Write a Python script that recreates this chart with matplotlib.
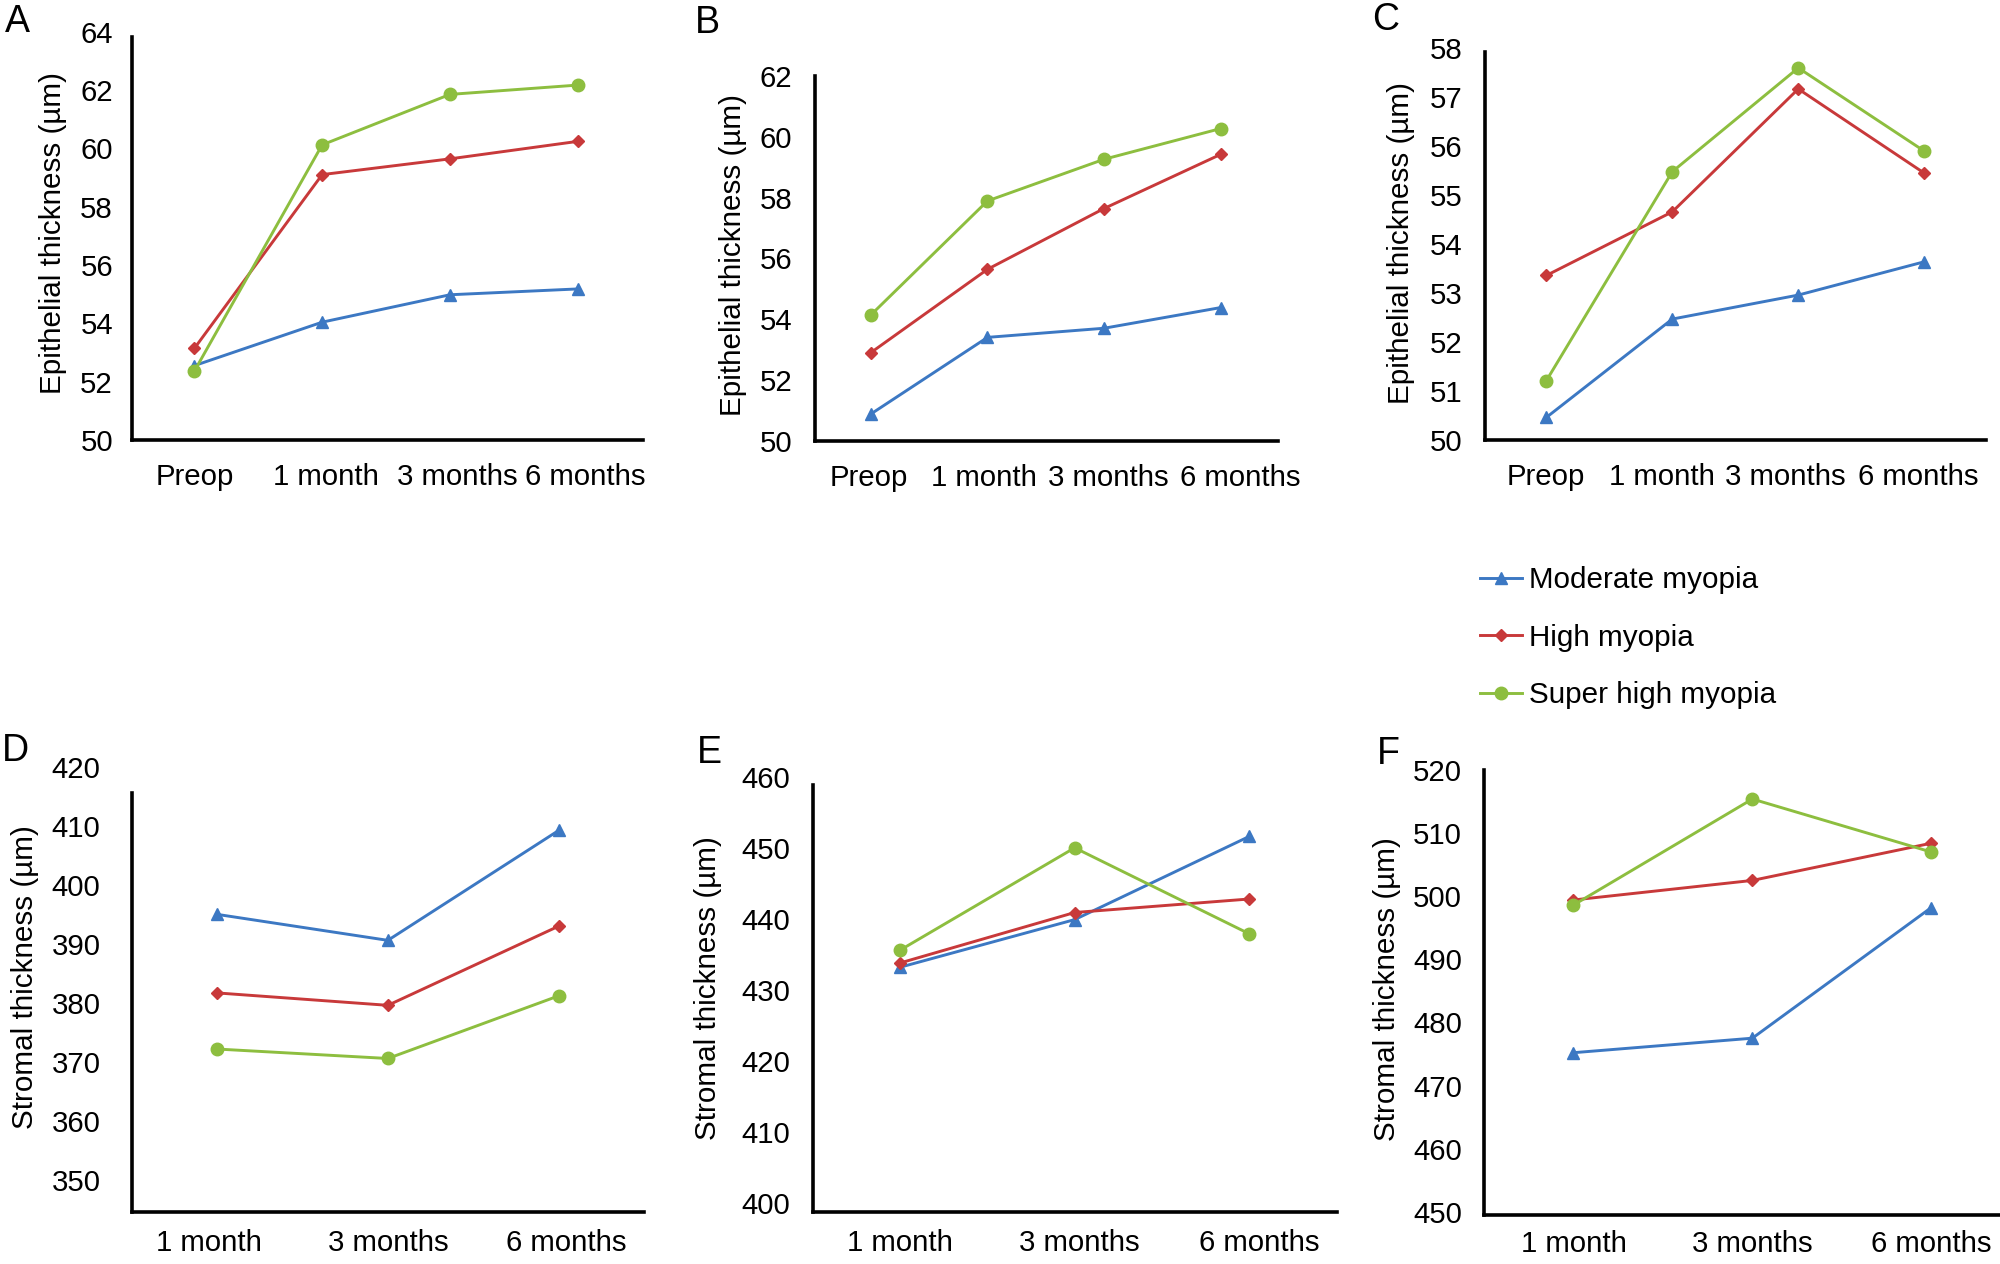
import matplotlib
matplotlib.use("Agg")
import matplotlib.pyplot as plt
from matplotlib.transforms import ScaledTranslation

plt.rcParams['font.family'] = ['Liberation Sans', 'DejaVu Sans']

# ---------------- data ----------------
epi_times = ["Preop", "1 month", "3 months", "6 months"]
str_times = ["1 month", "3 months", "6 months"]
groups = ["Moderate myopia", "High myopia", "Super high myopia"]

# A
a_moderate = [52.55, 54.04, 54.98, 55.18]
a_high = [53.14, 59.10, 59.64, 60.24]
a_super = [52.36, 60.12, 61.85, 62.17]
# B
b_moderate = [50.88, 53.40, 53.70, 54.38]
b_high = [52.90, 55.64, 57.64, 59.42]
b_super = [54.14, 57.89, 59.26, 60.27]
# C
c_moderate = [50.46, 52.47, 52.96, 53.64]
c_high = [53.36, 54.66, 57.17, 55.45]
c_super = [51.21, 55.48, 57.60, 55.90]
# D
d_moderate = [395.0, 390.6, 409.2]
d_high = [381.7, 379.6, 393.0]
d_super = [372.2, 370.6, 381.2]
# E
e_moderate = [433.2, 439.9, 451.6]
e_high = [433.8, 440.9, 442.8]
e_super = [435.6, 450.0, 437.9]
# F
f_moderate = [475.2, 477.5, 498.2]
f_high = [499.4, 502.5, 508.4]
f_super = [498.6, 515.4, 507.0]

epi_ticks_a = [50, 52, 54, 56, 58, 60, 62, 64]
epi_ticks_b = [50, 52, 54, 56, 58, 60, 62]
epi_ticks_c = [50, 51, 52, 53, 54, 55, 56, 57, 58]
str_ticks_d = [350, 360, 370, 380, 390, 400, 410, 420]
str_ticks_e = [400, 410, 420, 430, 440, 450, 460]
str_ticks_f = [450, 460, 470, 480, 490, 500, 510, 520]

# ---------------- style ----------------
W, H = 2000, 1264
colors = ["#3C78C3", "#C8393A", "#8DBE3F"]
markers = ["^", "D", "o"]
msizes = [9, 6.5, 9]
FS = 21.2
FS_LAB = 21.3

fig = plt.figure(figsize=(W / 100, H / 100), dpi=100)


def make_axes(x0, x1, ytop, ybot):
    return fig.add_axes([x0 / W, 1 - ybot / H, (x1 - x0) / W, (ybot - ytop) / H])


def panel(box, cats, series, xlim, ylim, spine_y, ticks, ylabel, ypad, xpad,
          ylab_xy, letter, letter_xy, label_shift):
    ax = make_axes(*box)
    x = list(range(len(cats)))
    lines = []
    for vals, c, m, ms in zip(series, colors, markers, msizes):
        ln, = ax.plot(x, vals, color=c, lw=2.1, marker=m, ms=ms,
                      markerfacecolor=c, markeredgecolor=c, clip_on=False)
        lines.append(ln)
    ax.set_xlim(*xlim)
    ax.set_ylim(*ylim)
    ax.set_xticks(x)
    ax.set_xticklabels(cats)
    ax.set_yticks(ticks)
    ax.set_yticklabels([str(t) for t in ticks])
    for s in ["top", "right"]:
        ax.spines[s].set_visible(False)
    for s in ["left", "bottom"]:
        ax.spines[s].set_linewidth(2.6)
        ax.spines[s].set_color("black")
    ax.spines["left"].set_bounds(*spine_y)
    ax.tick_params(axis="both", length=0, labelsize=FS, colors="black")
    ax.tick_params(axis="y", pad=ypad)
    ax.tick_params(axis="x", pad=xpad)
    for lab, dx in zip(ax.get_xticklabels(), label_shift):
        lab.set_transform(lab.get_transform() +
                          ScaledTranslation(dx / 100, 0, fig.dpi_scale_trans))
    ax.set_ylabel(ylabel, fontsize=FS_LAB)
    ax.yaxis.set_label_coords(ylab_xy[0] / W, 1 - ylab_xy[1] / H,
                              transform=fig.transFigure)
    ax.yaxis.label.set_va("center")
    fig.text(letter_xy[0] / W, 1 - letter_xy[1] / H, letter, fontsize=27,
             ha="center", va="center")
    return ax, lines


epi_label = "Epithelial thickness (\u00b5m)"
str_label = "Stromal thickness (\u00b5m)"

axA, handles = panel((131.7, 643, 31.7, 440), epi_times,
                     [a_moderate, a_high, a_super], (-0.49, 3.51), (50, 64),
                     (50, 63.83), epi_ticks_a, epi_label, 13.5, 16.5,
                     (53, 233), "A", (17, 22), [0, 4, 7, 7])
panel((815, 1277.7, 76, 440.7), epi_times, [b_moderate, b_high, b_super],
      (-0.48, 3.49), (50, 62), (50, 62), epi_ticks_b, epi_label, 16.5, 16.5,
      (733, 255), "B", (707, 23), [-2, -4, 4, 20])
panel((1485.2, 1986, 48.3, 440), epi_times, [c_moderate, c_high, c_super],
      (-0.485, 3.49), (50, 58), (50, 57.93), epi_ticks_c, epi_label, 16.3, 16.5,
      (1401, 243), "C", (1386, 20), [0, -10, -13, -6])
panel((131.7, 644, 766.7, 1211.7), str_times, [d_moderate, d_high, d_super],
      (-0.5, 2.5), (344.66, 420), (344.66, 415.5), str_ticks_d, str_label,
      22.5, 12.5, (25, 977.5), "D", (15, 751), [-8, 0, 8])
panel((812.7, 1336.6, 776.7, 1211.7), str_times, [e_moderate, e_high, e_super],
      (-0.5, 2.5), (398.82, 460), (398.82, 458.83), str_ticks_e, str_label,
      16.5, 12.5, (708, 988), "E", (709, 753), [0, 5, 10])
panel((1484, 2000, 770, 1215), str_times, [f_moderate, f_high, f_super],
      (-0.5, 2.384), (449.48, 520), (449.48, 520), str_ticks_f, str_label,
      15.8, 10.5, (1386.7, 989), "F", (1388, 754), [0, 0, 0])

fig.legend(handles, groups, loc="upper left",
           bbox_to_anchor=(1480 / W, 1 - 566 / H), frameon=False,
           fontsize=FS_LAB, handlelength=1.42, handletextpad=0.22,
           labelspacing=1.0, borderpad=0, borderaxespad=0)

fig.savefig("out.png", dpi=100, facecolor="white")
